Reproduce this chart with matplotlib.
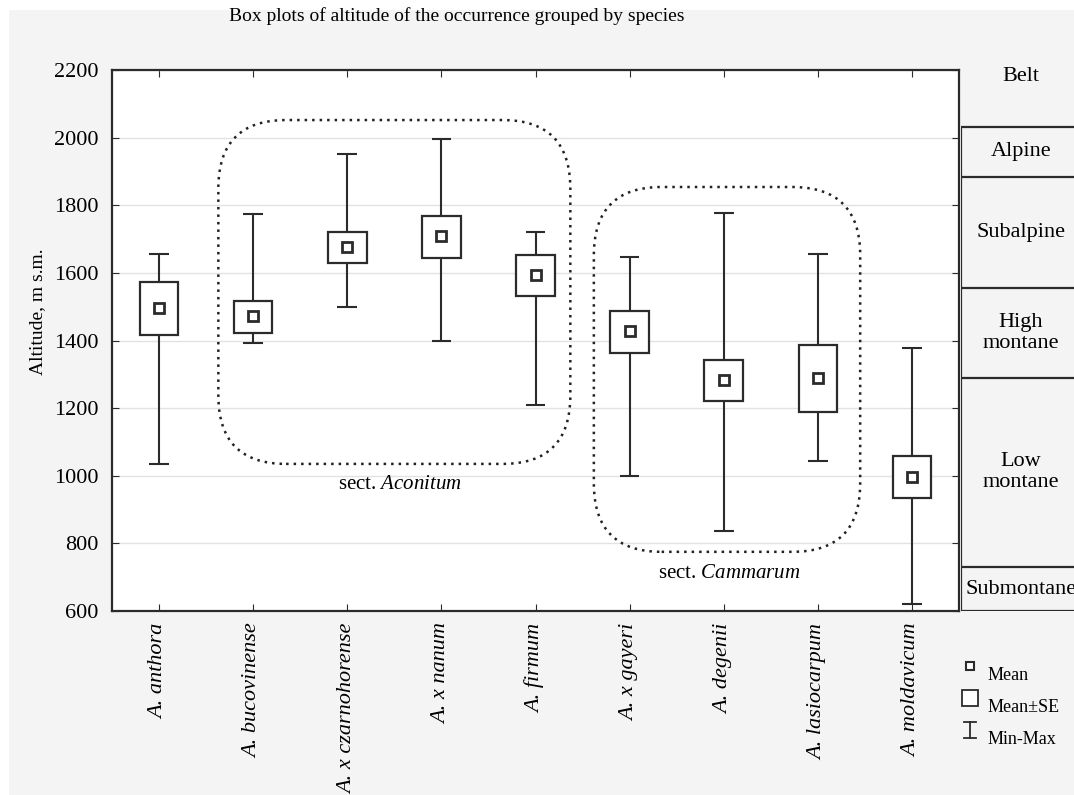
import matplotlib
matplotlib.use("Agg")
import matplotlib.pyplot as plt
from matplotlib.patches import FancyBboxPatch, Rectangle
from matplotlib.lines import Line2D

plt.rcParams['font.family'] = ['Liberation Serif', 'DejaVu Serif']
plt.rcParams['mathtext.fontset'] = 'custom'
plt.rcParams['mathtext.it'] = 'Liberation Serif:italic'
plt.rcParams['mathtext.rm'] = 'Liberation Serif'

# ---- data ----
species = ['A. anthora', 'A. bucovinense', 'A. x czarnohorense', 'A. x nanum',
           'A. firmum', 'A. x gayeri', 'A. degenii', 'A. lasiocarpum', 'A. moldavicum']
means = [1497, 1471, 1676, 1708, 1594, 1427, 1282, 1290, 996]
se_low = [1417, 1423, 1629, 1645, 1532, 1363, 1220, 1189, 935]
se_high = [1573, 1517, 1721, 1768, 1654, 1488, 1343, 1387, 1057]
v_min = [1036, 1393, 1500, 1400, 1210, 1000, 838, 1043, 622]
v_max = [1656, 1775, 1951, 1995, 1722, 1647, 1776, 1655, 1378]

belt_names = ['Alpine', 'Subalpine', 'High\nmontane', 'Low\nmontane', 'Submontane']
belt_bounds = [2030, 1885, 1555, 1290, 730, 600]

sections = ['Aconitum', 'Cammarum']
section_span = [(0.63, 4.37, 1035, 2052), (4.62, 7.45, 775, 1854)]
section_label_pos = [(2.56, 975), (6.06, 710)]

yticks = [600, 800, 1000, 1200, 1400, 1600, 1800, 2000, 2200]

W, H = 1074, 795
bg = '#f4f4f4'
ink = '#2b2b2b'

fig = plt.figure(figsize=(W / 100, H / 100), dpi=100)
fig.patch.set_facecolor('white')
fig.add_artist(Rectangle((9 / W, 0), 1, 1 - 10 / H, transform=fig.transFigure,
                         facecolor=bg, edgecolor='none', zorder=-10))

ax = fig.add_axes([112 / W, 1 - 611 / H, (959 - 112) / W, (611 - 70) / H])
ax.set_facecolor('white')
x = list(range(len(species)))

ax.vlines(x, v_min, v_max, color=ink, lw=1.5, zorder=2)
ax.hlines(v_min, [i - 0.105 for i in x], [i + 0.105 for i in x], color=ink, lw=1.5, zorder=2)
ax.hlines(v_max, [i - 0.105 for i in x], [i + 0.105 for i in x], color=ink, lw=1.5, zorder=2)
ax.bar(x, [h - l for h, l in zip(se_high, se_low)], bottom=se_low, width=0.41,
       facecolor='white', edgecolor=ink, linewidth=1.6, zorder=3)
ax.plot(x, means, 's', ms=7.5, mfc='white', mec=ink, mew=2, zorder=4, ls='none')

# dotted rounded frames around sections
for (x0, x1, y0, y1) in section_span:
    box = FancyBboxPatch((x0, y0), x1 - x0, y1 - y0,
                         boxstyle="round,pad=0,rounding_size=0.72",
                         mutation_aspect=280, facecolor='none', edgecolor='#222',
                         lw=1.8, ls=(0, (1, 2)), zorder=1)
    ax.add_patch(box)
for name, (lx, ly) in zip(sections, section_label_pos):
    ax.text(lx, ly, 'sect. ' + r'$\mathit{' + name + '}$', ha='center', va='center',
            fontsize=15)

ax.set_xlim(-0.5, len(species) - 0.5)
ax.set_ylim(600, 2200)
ax.set_yticks(yticks)
ax.set_xticks(x)
ax.set_xticklabels(species, rotation=90, fontstyle='italic', fontsize=16, va='top')
ax.tick_params(axis='y', labelsize=16, direction='in', length=5, right=True,
               color=ink, pad=10)
ax.tick_params(axis='x', direction='in', length=5, top=True, color=ink, pad=9)
ax.grid(axis='y', color='#e2e2e2', lw=1)
ax.set_axisbelow(True)
for s in ax.spines.values():
    s.set_color(ink)
    s.set_linewidth(1.6)

fig.text(38 / W, 1 - 312 / H, 'Altitude, m s.m.', rotation=90, ha='center',
         va='center', fontsize=14)
fig.text(457 / W, 1 - 16 / H, 'Box plots of altitude of the occurrence grouped by species',
         ha='center', va='center', fontsize=14)

# belt panel on the right
axb = fig.add_axes([961 / W, 1 - 611 / H, 0.2, (611 - 70) / H], sharey=ax)
axb.set_facecolor('none')
axb.set_xlim(0, 1)
axb.axis('off')
axb.hlines(belt_bounds, 0, 1, color=ink, lw=1.6)
axb.vlines(0, belt_bounds[-1], belt_bounds[0], color=ink, lw=1.6)
xc = (1021 - 961) / (0.2 * W)
axb.text(xc, 2180, 'Belt', ha='center', va='center', fontsize=16)
for name, top, bot in zip(belt_names, belt_bounds[:-1], belt_bounds[1:]):
    axb.text(xc, (top + bot) / 2, name, ha='center', va='center', fontsize=16,
             linespacing=1.15)

# legend
lx = 970 / W
fig.add_artist(Line2D([lx], [1 - 666 / H], marker='s', ms=6, mfc='white', mec=ink,
                      mew=1.5, transform=fig.transFigure))
fig.add_artist(Line2D([lx], [1 - 698 / H], marker='s', ms=12, mfc='white', mec=ink,
                      mew=1.3, transform=fig.transFigure))
fig.add_artist(Line2D([lx, lx], [1 - 722 / H, 1 - 738 / H], color=ink, lw=1.3,
                      transform=fig.transFigure))
for yy in (722, 738):
    fig.add_artist(Line2D([lx - 6 / W, lx + 6 / W], [1 - yy / H] * 2, color=ink, lw=1.3,
                          transform=fig.transFigure))
for label, yy in zip(['Mean', 'Mean±SE', 'Min-Max'], [676, 708, 740]):
    fig.text(988 / W, 1 - yy / H, label, ha='left', va='center', fontsize=13)

fig.savefig('out.png', dpi=100, facecolor=fig.get_facecolor())
